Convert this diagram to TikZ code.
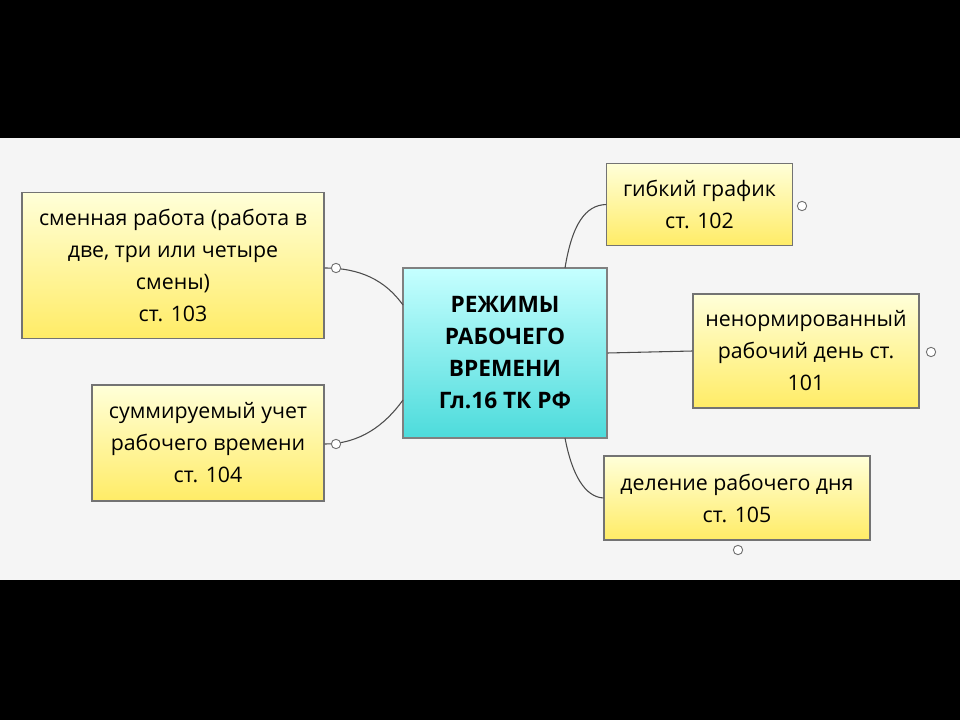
\documentclass[tikz,border=0pt]{standalone}
\usepackage{fontspec}
\setmainfont{Open Sans}
\begin{document}
\begin{tikzpicture}[x=0.75pt,y=-0.75pt,
  box/.style={draw=black!55,line width=0.8pt,top color=yellow!15!white,bottom color=yellow!75!orange!60,shading angle=0,font=\fontsize{16}{24}\selectfont,align=center,inner sep=0pt},
  hub/.style={draw=black!50,line width=0.8pt,top color=cyan!25!white!90,bottom color=teal!40!cyan!70,align=center,font=\bfseries\fontsize{17}{24}\selectfont,inner sep=0pt},
  link/.style={draw=black!70,line width=0.8pt},
  dotmark/.style={circle,draw=black!55,fill=white,minimum size=7pt,inner sep=0pt,line width=0.7pt}]
\fill[black] (0,0) rectangle (960,720);
\fill[gray!8!white] (0,138) rectangle (960,580);
\useasboundingbox (0,0) rectangle (960,720);
\node[hub,minimum width=153pt,minimum height=127.5pt] (c) at (505,353) {РЕЖИМЫ\\РАБОЧЕГО\\ВРЕМЕНИ\\Гл.16 ТК РФ};
\node[box,minimum width=226.5pt,minimum height=110pt] (a) at (173,265.5) {сменная работа (работа в\\две, три или четыре\\смены)\\ст. 103};
\node[box,minimum width=174pt,minimum height=87pt] (b) at (208,443) {суммируемый учет\\рабочего времени\\ст. 104};
\node[box,minimum width=139pt,minimum height=62pt] (d) at (699.5,204.5) {гибкий график\\ст. 102};
\node[box,minimum width=169.5pt,minimum height=85.5pt] (e) at (806,351) {ненормированный\\рабочий день ст.\\101};
\node[box,minimum width=199.5pt,minimum height=63pt] (f) at (737,498) {деление рабочего дня\\ст. 105};
\coordinate (ca) at (403,305);
\coordinate (cb) at (403,400);
\coordinate (cd) at (565,268);
\coordinate (cf) at (565,438);
\draw[link] (ca) .. controls (385,280) and (360,268) .. (a.east |- 0,268);
\draw[link] (cb) .. controls (385,425) and (360,444) .. (b.east |- 0,444);
\draw[link] (cd) .. controls (572,225) and (585,205) .. (d.west);
\draw[link] (c.east) -- (e.west);
\draw[link] (cf) .. controls (572,475) and (585,497) .. (f.west);
\node[dotmark] (m1) at (336,268) {};
\node[dotmark] (m2) at (336,444) {};
\node[dotmark] (m3) at (802,206) {};
\node[dotmark] (m4) at (931,352) {};
\node[dotmark] (m5) at (738,550) {};
\end{tikzpicture}
\end{document}
